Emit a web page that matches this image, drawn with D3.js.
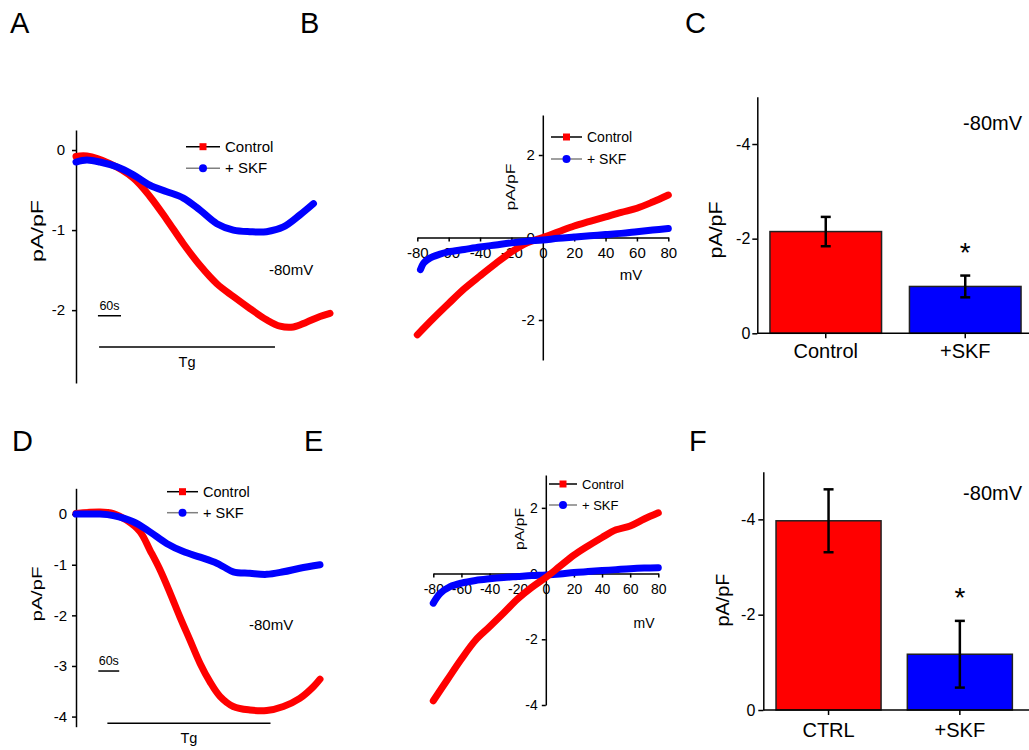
<!DOCTYPE html>
<html>
<head>
<meta charset="utf-8">
<script src="https://cdn.jsdelivr.net/npm/d3@7"></script>
<style>
  body { margin: 0; background: #fff; }
  svg { font-family: "Liberation Sans", Arial, sans-serif; }
</style>
</head>
<body>
<svg id="fig" width="1029" height="750"></svg>
<script>
// ---- data ----
// A: time course at -80mV (s, pA/pF)
const timeCtrlA = [0, 28, 88, 149, 192, 236, 279, 322, 366, 409, 452, 495, 530, 565, 599, 634, 660];
const ctrlA = [-0.08, -0.075, -0.17, -0.35, -0.58, -0.87, -1.17, -1.44, -1.67, -1.83, -1.98, -2.12, -2.2, -2.21, -2.15, -2.08, -2.04];
const timeSkfA = [0, 28, 62, 106, 149, 192, 236, 279, 322, 366, 409, 452, 495, 539, 582, 617];
const skfA = [-0.15, -0.125, -0.15, -0.21, -0.31, -0.44, -0.52, -0.60, -0.75, -0.92, -1.0, -1.02, -1.02, -0.96, -0.81, -0.67];

// B: I-V curves (mV, pA/pF)
const mvCtrlB = [-80, -70, -60, -50, -40, -30, -20, -10, 0, 10, 20, 30, 40, 50, 60, 70, 80];
const ctrlB = [-2.36, -1.97, -1.6, -1.24, -0.93, -0.63, -0.35, -0.13, 0.0, 0.14, 0.28, 0.39, 0.50, 0.61, 0.71, 0.86, 1.03];
const mvSkfB = [-78, -76, -72, -66, -60, -50, -40, -30, -20, -10, 0, 10, 20, 30, 40, 50, 60, 70, 80];
const skfB = [-0.78, -0.62, -0.5, -0.41, -0.35, -0.29, -0.23, -0.18, -0.13, -0.09, -0.06, -0.02, 0.01, 0.04, 0.07, 0.10, 0.14, 0.18, 0.22];

// C: mean current at -80mV
const catsC = ["Control", "+SKF"];
const meanC = [-2.15, -0.99];
const semC = [0.31, 0.23];

// D: time course at -80mV
const timeCtrlD = [0, 69, 107, 145, 184, 212, 241, 270, 298, 327, 356, 384, 413, 451, 499, 547, 595, 642, 681, 700];
const ctrlD = [0.01, 0.04, 0.01, -0.12, -0.35, -0.71, -1.1, -1.56, -2.03, -2.49, -2.95, -3.31, -3.6, -3.8, -3.87, -3.88, -3.8, -3.64, -3.41, -3.26];
const timeSkfD = [0, 69, 107, 164, 212, 260, 308, 356, 404, 423, 451, 499, 547, 595, 642, 700];
const skfD = [0, 0, -0.03, -0.15, -0.35, -0.58, -0.74, -0.85, -0.97, -1.04, -1.14, -1.17, -1.19, -1.14, -1.07, -1.0];

// E: I-V curves
const mvCtrlE = [-80, -70, -60, -50, -40, -30, -20, -10, 0, 10, 20, 30, 40, 50, 60, 70, 80];
const ctrlE = [-3.87, -3.23, -2.6, -2.03, -1.62, -1.2, -0.77, -0.42, -0.12, 0.22, 0.56, 0.84, 1.1, 1.33, 1.45, 1.66, 1.85];
const mvSkfE = [-80, -75, -68, -60, -50, -40, -30, -20, -10, 0, 10, 20, 30, 40, 50, 60, 70, 80];
const skfE = [-0.9, -0.6, -0.4, -0.29, -0.21, -0.16, -0.12, -0.09, -0.06, -0.04, -0.01, 0.03, 0.06, 0.09, 0.12, 0.15, 0.17, 0.18];

// F: mean current at -80mV
const catsF = ["CTRL", "+SKF"];
const meanF = [-3.97, -1.17];
const semF = [0.66, 0.70];

const panelLetters = ["A", "B", "C", "D", "E", "F"];

const RED = "#ff0000", BLUE = "#0000ff";
const svg = d3.select("#fig");
const fmt = d => String(d);

// panel letters
const letterPos = [[10, 33], [300, 33], [685, 33], [12, 451], [304, 451], [689, 451]];
svg.selectAll("text.letter").data(panelLetters).join("text")
  .attr("class", "letter")
  .attr("x", (d, i) => letterPos[i][0])
  .attr("y", (d, i) => letterPos[i][1])
  .attr("font-size", 29)
  .text(d => d);

function yLabel(cx, cy, size, len) {
  svg.append("text")
    .attr("transform", `translate(${cx},${cy}) rotate(-90)`)
    .attr("text-anchor", "middle")
    .attr("dy", "0.25em")
    .attr("font-size", size)
    .attr("textLength", len)
    .attr("lengthAdjust", "spacingAndGlyphs")
    .text("pA/pF");
}

function legend(x0, x1, y0, gap, size) {
  const rows = [{name: "Control", line: "#000", col: RED, sq: true},
                {name: "+ SKF", line: "#808080", col: BLUE, sq: false}];
  rows.forEach((r, i) => {
    const yy = y0 + i * gap, mid = (x0 + x1) / 2;
    svg.append("line").attr("x1", x0).attr("x2", x1).attr("y1", yy).attr("y2", yy)
      .attr("stroke", r.line).attr("stroke-width", 1.5);
    if (r.sq) {
      svg.append("rect").attr("x", mid - 3.5).attr("y", yy - 3.5).attr("width", 7).attr("height", 7).attr("fill", r.col);
    } else {
      svg.append("circle").attr("cx", mid).attr("cy", yy).attr("r", 4).attr("fill", r.col);
    }
    svg.append("text").attr("x", x1 + 5).attr("y", yy).attr("dy", "0.35em")
      .attr("font-size", size).text(r.name);
  });
}

function trace(g, x, y, xs, ys, color, w) {
  const line = d3.line().x((d, i) => x(xs[i])).y(d => y(d)).curve(d3.curveCatmullRom.alpha(0.5));
  g.append("path").datum(ys).attr("d", line)
    .attr("fill", "none").attr("stroke", color).attr("stroke-width", w)
    .attr("stroke-linecap", "round").attr("stroke-linejoin", "round");
}

function styleAxis(a, size) {
  a.selectAll("path, line").attr("stroke", "#000").attr("stroke-width", 1.5);
  a.selectAll("text").attr("font-size", size).attr("fill", "#000")
    .attr("font-family", "'Liberation Sans', Arial, sans-serif");
}

// ---- time-course panel (A, D) ----
function timePanel(o) {
  const g = svg.append("g");
  const x = d3.scaleLinear().domain([0, o.tMax]).range(o.xr);
  const y = d3.scaleLinear().domain(o.yd).range(o.yr);
  const ax = g.append("g").attr("transform", `translate(${o.xr[0]},0)`)
    .call(d3.axisLeft(y).tickValues(o.ticks).tickFormat(fmt).tickSize(4).tickSizeOuter(0).tickPadding(o.pad));
  styleAxis(ax, 15);
  trace(g, x, y, o.tc, o.c, RED, 7);
  trace(g, x, y, o.ts, o.s, BLUE, 7);
  // 60 s scale bar
  g.append("line").attr("x1", x(o.bar60)).attr("x2", x(o.bar60 + 60))
    .attr("y1", y(o.barY)).attr("y2", y(o.barY)).attr("stroke", "#000").attr("stroke-width", 1.5);
  g.append("text").attr("x", x(o.bar60 + 30)).attr("y", y(o.barY) - 6).attr("text-anchor", "middle")
    .attr("font-size", 12.5).text("60s");
  // Tg application bar
  g.append("line").attr("x1", x(o.tg[0])).attr("x2", x(o.tg[1]))
    .attr("y1", y(o.tgY)).attr("y2", y(o.tgY)).attr("stroke", "#000").attr("stroke-width", 1.5);
  g.append("text").attr("x", x((o.tg[0] + o.tg[1]) / 2)).attr("y", y(o.tgY) + 20).attr("text-anchor", "middle")
    .attr("font-size", 14.5).text("Tg");
  g.append("text").attr("x", o.vPos[0]).attr("y", o.vPos[1]).attr("font-size", 15).text("-80mV");
}

timePanel({tMax: 660, xr: [76, 330], yd: [-2.91, 0.25], yr: [383, 130], ticks: [-2, -1, 0], pad: 7,
  tc: timeCtrlA, c: ctrlA, ts: timeSkfA, s: skfA,
  bar60: 57, barY: -2.07, tg: [60, 517], tgY: -2.46, vPos: [269, 275]});
yLabel(39, 231, 17, 62);
legend(186, 220, 146.7, 21.5, 15);

timePanel({tMax: 700, xr: [76, 320], yd: [-4.2, 0.51], yr: [726.7, 488.3], ticks: [-4, -3, -2, -1, 0], pad: 5,
  tc: timeCtrlD, c: ctrlD, ts: timeSkfD, s: skfD,
  bar60: 64, barY: -3.1, tg: [90, 558], tgY: -4.13, vPos: [249, 630]});
yLabel(38.5, 594, 15, 55);
legend(167, 198, 491.7, 21, 14.5);

// ---- I-V panel (B, E) ----
function ivPanel(o) {
  const g = svg.append("g");
  const x = d3.scaleLinear().domain([-80, 80]).range(o.xr);
  const y = d3.scaleLinear().domain(o.yd).range(o.yr);
  const ay = g.append("g").attr("transform", `translate(${x(0)},0)`)
    .call(d3.axisLeft(y).tickValues(o.yt).tickFormat(fmt).tickSize(4).tickSizeOuter(0).tickPadding(4));
  styleAxis(ay, o.fs);
  const axX = g.append("g").attr("transform", `translate(0,${y(0)})`)
    .call(d3.axisBottom(x).tickValues(d3.range(-80, 81, 20)).tickFormat(fmt).tickSize(4).tickSizeOuter(0).tickPadding(6));
  styleAxis(axX, o.fs);
  if (o.redTop) {
    trace(g, x, y, o.ms, o.s, BLUE, 7);
    trace(g, x, y, o.mc, o.c, RED, 7);
  } else {
    trace(g, x, y, o.mc, o.c, RED, 7);
    trace(g, x, y, o.ms, o.s, BLUE, 7);
  }
  g.append("text").attr("x", o.mvPos[0]).attr("y", o.mvPos[1]).attr("text-anchor", "middle")
    .attr("font-size", o.fs).text("mV");
}

ivPanel({xr: [417.3, 668.3], yd: [-2.97, 2.97], yr: [360, 115], yt: [-2, 0, 2], fs: 15,
  mc: mvCtrlB, c: ctrlB, ms: mvSkfB, s: skfB, redTop: false, mvPos: [631, 280]});
yLabel(512, 187, 13, 47);
legend(551, 582, 137, 22, 14);

ivPanel({xr: [433.3, 658.3], yd: [-4, 3], yr: [705, 475], yt: [-4, -2, 0, 2], fs: 14,
  mc: mvCtrlE, c: ctrlE, ms: mvSkfE, s: skfE, redTop: true, mvPos: [644, 628]});
yLabel(520.5, 529, 12, 42);
legend(549, 577, 484, 21, 13);

// ---- bar panel (C, F) ----
function barPanel(o) {
  const g = svg.append("g");
  const x = d3.scaleBand().domain(o.cats).range(o.xr).paddingInner(0.2).paddingOuter(0.1);
  const y = d3.scaleLinear().domain([0, -5]).range(o.yr);
  g.selectAll("rect").data(o.mean).join("rect")
    .attr("x", (d, i) => x(o.cats[i])).attr("width", x.bandwidth())
    .attr("y", d => y(d)).attr("height", d => y(0) - y(d))
    .attr("fill", (d, i) => i === 0 ? RED : BLUE).attr("stroke", "#222").attr("stroke-width", 1.5);
  o.mean.forEach((m, i) => {
    const cx = x(o.cats[i]) + x.bandwidth() / 2;
    const top = y(m - o.sem[i]), bot = y(m + o.sem[i]);
    g.append("line").attr("x1", cx).attr("x2", cx).attr("y1", top).attr("y2", bot).attr("stroke", "#000").attr("stroke-width", 2.5);
    [top, bot].forEach(v => g.append("line").attr("x1", cx - 5).attr("x2", cx + 5).attr("y1", v).attr("y2", v)
      .attr("stroke", "#000").attr("stroke-width", 2.5));
    if (i === 1) {
      g.append("text").attr("x", cx).attr("y", top - 14).attr("text-anchor", "middle")
        .attr("font-size", 28).text("*");
    }
  });
  const ay = g.append("g").attr("transform", `translate(${o.axX},0)`)
    .call(d3.axisLeft(y).tickValues([0, -2, -4]).tickFormat(fmt).tickSize(5).tickSizeOuter(0).tickPadding(o.ypad));
  styleAxis(ay, 16);
  const axX = g.append("g").attr("transform", `translate(0,${y(0)})`)
    .call(d3.axisBottom(x).tickSize(5).tickSizeOuter(0).tickPadding(o.xpad));
  styleAxis(axX, 20);
  axX.select("path.domain").attr("d", `M${o.axX},0H1029`);
  g.append("text").attr("x", 1022).attr("y", o.vY).attr("text-anchor", "end").attr("font-size", 20).text("-80mV");
}

barPanel({cats: catsC, mean: meanC, sem: semC, xr: [756, 1035], yr: [333.3, 96.7], axX: 757.3,
  ypad: 2, xpad: 5.5, vY: 130});
yLabel(717.5, 230, 18, 57);

barPanel({cats: catsF, mean: meanF, sem: semF, xr: [762.9, 1025.5], yr: [710, 471.7], axX: 763.3,
  ypad: 3, xpad: 7.5, vY: 500});
yLabel(724, 600, 18, 53);
</script>
</body>
</html>
